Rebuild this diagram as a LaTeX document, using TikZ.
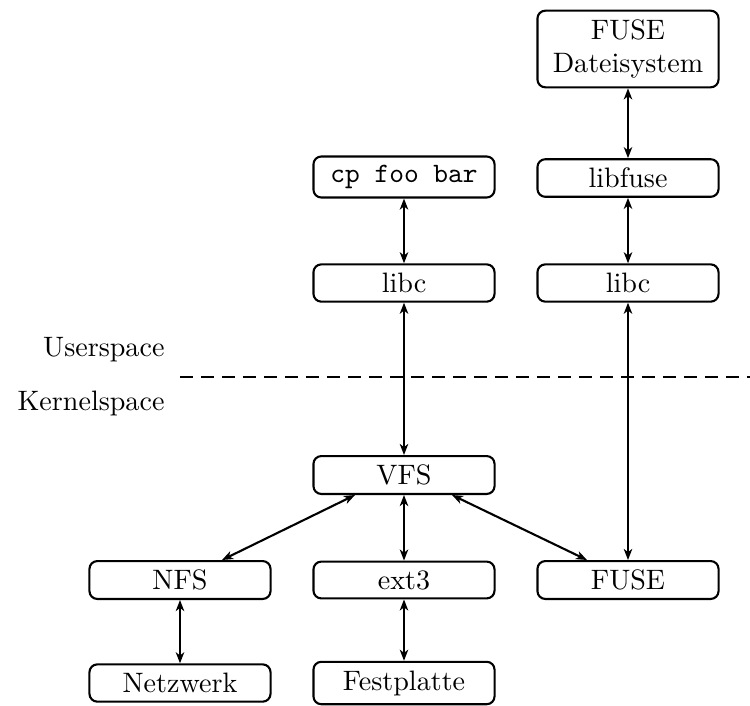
\documentclass[tikz,border=0pt]{standalone}
\usetikzlibrary{arrows.meta,calc}
\begin{document}
\begin{tikzpicture}[x=0.381pt,y=-0.381pt,
  every node/.style={font=\fontsize{10.7}{12.8}\selectfont},
  box/.style={draw,thick,rounded corners=3pt,minimum width=69pt,inner sep=3.33pt,align=center},
  link/.style={thick,{Stealth[length=4.2pt,width=3.2pt,inset=1.2pt]}-{Stealth[length=4.2pt,width=3.2pt,inset=1.2pt]}},
  layer/.style={anchor=east,inner sep=0pt}]
\useasboundingbox (0,0) rectangle (750,705);

% user space
\node[box] (fusefs) at (628,49) {FUSE\\Dateisystem};
\node[box] (libfuse) at (628,178) {libfuse};
\node[box] (libcR) at (628,283) {libc};
\node[box] (cp) at (404,177) {\texttt{cp foo bar}};
\node[box] (libcL) at (404,283) {libc};

% boundary between user space and kernel space
\node[layer] (us) at (165,350) {Userspace};
\node[layer] (ks) at (165,403) {Kernelspace};
\coordinate (dl) at (180,377);
\coordinate (dr) at (752,377);
\draw[thick,dash pattern=on 5pt off 3pt] (dl) -- (dr);

% kernel space
\node[box] (vfs) at (404,475) {VFS};
\node[box] (nfs) at (180,580) {NFS};
\node[box] (ext3) at (404,580) {ext3};
\node[box] (fuse) at (628,580) {FUSE};
\node[box] (netz) at (180,683) {Netzwerk};
\node[box] (fest) at (404,683) {Festplatte};

% connections
\draw[link] (fusefs.south) -- (libfuse.north);
\draw[link] (libfuse.south) -- (libcR.north);
\draw[link] (cp.south) -- (libcL.north);
\draw[link] (libcL.south) -- (vfs.north);
\draw[link] (libcR.south) -- (fuse.north);
\draw[link] ($(vfs.south)+(-49,0)$) -- ($(nfs.north)+(42,0)$);
\draw[link] (vfs.south) -- (ext3.north);
\draw[link] ($(vfs.south)+(48,0)$) -- ($(fuse.north)+(-41,0)$);
\draw[link] (nfs.south) -- (netz.north);
\draw[link] (ext3.south) -- (fest.north);
\end{tikzpicture}
\end{document}
